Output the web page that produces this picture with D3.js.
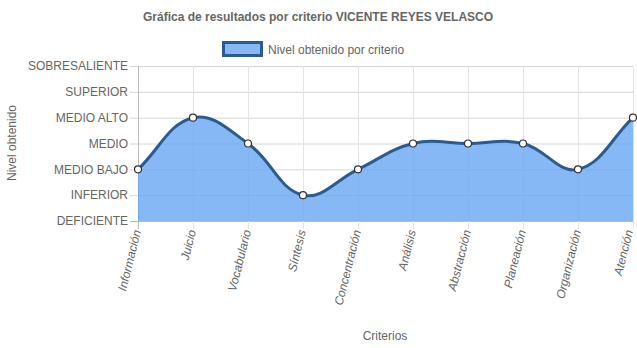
<!DOCTYPE html>
<html>
<head>
<meta charset="utf-8">
<script src="https://cdn.jsdelivr.net/npm/d3@7"></script>
<style>
  body { margin: 0; background: #fff; }
  svg { font-family: "Liberation Sans", Arial, sans-serif; }
</style>
</head>
<body>
<svg width="637" height="348"></svg>
<script>
const categories = ['Información', 'Juicio', 'Vocabulario', 'Síntesis', 'Concentración',
                    'Análisis', 'Abstracción', 'Planeación', 'Organización', 'Atención'];
const levels = ['DEFICIENTE', 'INFERIOR', 'MEDIO BAJO', 'MEDIO', 'MEDIO ALTO', 'SUPERIOR', 'SOBRESALIENTE'];
const values = [2, 4, 3, 1, 2, 3, 3, 3, 2, 4];

const svg = d3.select('svg');
const plotLeft = 138, plotRight = 633, plotTop = 66, plotBottom = 221;
const textColor = '#666';
const fillColor = 'rgba(104,166,242,0.8)';
const lineColor = '#2c5b91';

const x = d3.scalePoint().domain(categories).range([plotLeft, plotRight]);
const y = d3.scaleLinear().domain([0, levels.length - 1]).range([plotBottom, plotTop]);

// grid
const grid = svg.append('g');
grid.selectAll('.hg').data(d3.range(levels.length)).enter().append('line')
    .attr('x1', plotLeft - 8).attr('x2', plotRight)
    .attr('y1', d => y(d) + 0.5).attr('y2', d => y(d) + 0.5)
    .attr('stroke', d => d === 0 ? '#bbb' : '#d6d6d6').attr('stroke-width', 1);
grid.selectAll('.vg').data(categories).enter().append('line')
    .attr('x1', d => x(d) + 0.5).attr('x2', d => x(d) + 0.5)
    .attr('y1', plotTop).attr('y2', plotBottom + 8)
    .attr('stroke', (d, i) => i === 0 ? '#bbb' : '#e3e3e3').attr('stroke-width', 1);

// chart.js style spline (tension 0.4)
const pts = values.map((v, i) => ({ x: x(categories[i]), y: y(v) }));
const tension = 0.4;
pts.forEach((p, i) => {
  const prev = pts[i - 1] || p, next = pts[i + 1] || p;
  const d01 = Math.hypot(p.x - prev.x, p.y - prev.y);
  const d12 = Math.hypot(next.x - p.x, next.y - p.y);
  let s01 = d01 / (d01 + d12), s12 = d12 / (d01 + d12);
  if (isNaN(s01)) s01 = 0;
  if (isNaN(s12)) s12 = 0;
  const fa = tension * s01, fb = tension * s12;
  p.cpPrev = { x: p.x - fa * (next.x - prev.x), y: Math.min(plotBottom, Math.max(plotTop, p.y - fa * (next.y - prev.y))) };
  p.cpNext = { x: p.x + fb * (next.x - prev.x), y: Math.min(plotBottom, Math.max(plotTop, p.y + fb * (next.y - prev.y))) };
});
function linePath(path) {
  path.moveTo(pts[0].x, pts[0].y);
  for (let i = 1; i < pts.length; i++) {
    const a = pts[i - 1], b = pts[i];
    path.bezierCurveTo(a.cpNext.x, a.cpNext.y, b.cpPrev.x, b.cpPrev.y, b.x, b.y);
  }
  return path;
}
const area = linePath(d3.path());
area.lineTo(pts[pts.length - 1].x, y(0));
area.lineTo(pts[0].x, y(0));
area.closePath();

svg.append('path').attr('d', area.toString()).attr('fill', fillColor);
svg.append('path').attr('d', linePath(d3.path()).toString())
   .attr('fill', 'none').attr('stroke', lineColor).attr('stroke-width', 3);

svg.append('g').selectAll('circle').data(pts).enter().append('circle')
   .attr('cx', d => d.x).attr('cy', d => d.y).attr('r', 3.5)
   .attr('fill', '#fff').attr('stroke', '#333').attr('stroke-width', 1.2);

// y labels
svg.append('g').selectAll('text').data(levels).enter().append('text')
   .attr('x', 128).attr('y', (d, i) => y(i)).attr('dy', '0.35em')
   .attr('text-anchor', 'end').attr('font-size', 12).attr('fill', textColor)
   .text(d => d);

// x labels (last one nudged in so it stays inside the frame)
svg.append('g').selectAll('text').data(categories).enter().append('text')
   .attr('transform', (d, i) => `translate(${x(d) + (i === categories.length - 1 ? 0 : 3)},${plotBottom + 10}) rotate(-76)`)
   .attr('text-anchor', 'end').attr('font-size', 12).attr('font-style', 'italic')
   .attr('fill', textColor).text(d => d);

// titles
svg.append('text').attr('x', 318).attr('y', 21).attr('text-anchor', 'middle')
   .attr('font-size', 12).attr('font-weight', 'bold').attr('fill', textColor)
   .text('Gráfica de resultados por criterio VICENTE REYES VELASCO');
svg.append('text').attr('x', 385).attr('y', 340).attr('text-anchor', 'middle')
   .attr('font-size', 12).attr('fill', textColor).text('Criterios');
svg.append('text').attr('transform', 'translate(16,143) rotate(-90)')
   .attr('text-anchor', 'middle').attr('font-size', 12).attr('fill', textColor)
   .text('Nivel obtenido');

// legend
svg.append('rect').attr('x', 223.5).attr('y', 42.5).attr('width', 38).attr('height', 13)
   .attr('fill', fillColor).attr('stroke', lineColor).attr('stroke-width', 3);
svg.append('text').attr('x', 268).attr('y', 54).attr('font-size', 12).attr('fill', textColor)
   .text('Nivel obtenido por criterio');
</script>
</body>
</html>
